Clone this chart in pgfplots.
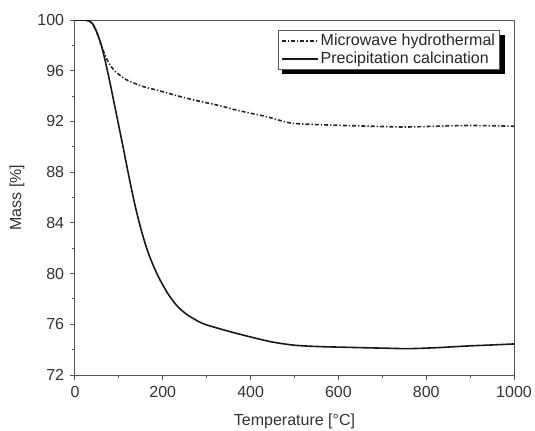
\documentclass[border=0pt]{standalone}
\usepackage{pgfplots}
\pgfplotsset{compat=1.18}
\usepackage{fontspec}
\setmainfont{Liberation Sans}
\usetikzlibrary{backgrounds}
\definecolor{txt}{HTML}{333333}
\definecolor{axc}{HTML}{555555}
\pgfplotstableread{
T m
0 100
20 100
30 99.95
40 99.7
50 99.0
60 98.0
70 97.1
80 96.45
90 96.0
100 95.7
118 95.27
140 94.95
156 94.74
194 94.4
230 94.05
270 93.7
330 93.24
361 92.95
400 92.65
437 92.37
470 92.05
497 91.85
551 91.75
634 91.66
700 91.6
750 91.56
800 91.6
900 91.68
1000 91.62
}\microwave
\pgfplotstableread{
T m
0 100
20 100
30 99.95
40 99.7
50 99.0
60 98.0
70 96.6
80 95.0
90 93.3
100 91.6
110 89.9
120 88.15
130 86.45
140 84.9
150 83.55
160 82.35
170 81.35
180 80.5
190 79.75
200 79.1
210 78.5
220 78.0
230 77.55
240 77.2
250 76.9
260 76.65
280 76.25
300 75.95
350 75.45
400 75.0
450 74.6
500 74.35
550 74.25
600 74.2
700 74.12
760 74.08
820 74.15
900 74.3
950 74.37
1000 74.45
}\precip
\begin{document}
\fontsize{12}{14}\selectfont
\begin{tikzpicture}
\path[use as bounding box] (-56.25pt,-41.25pt) rectangle (345pt,281.25pt);
\begin{axis}[
  at={(0,0)}, anchor=south west,
  scale only axis,
  width=329.25pt, height=266.25pt,
  xmin=0, xmax=1000, ymin=72, ymax=100,
  xtick={0,200,...,1000}, ytick={72,76,...,100},
  minor x tick num=1, minor y tick num=1,
  tick align=outside,
  xtick pos=bottom, ytick pos=left,
  major tick length=4pt, minor tick length=2.5pt,
  axis line style={axc, line width=0.75pt},
  every tick/.style={axc, line width=0.75pt},
  tick label style={font=\fontsize{12}{14}\selectfont, text=txt},
  /pgf/number format/assume math mode=true,
  /pgf/number format/1000 sep={},
  xlabel={Temperature [°C]}, ylabel={Mass [\%]},
  label style={font=\fontsize{12}{14}\selectfont, text=txt},
  xlabel style={at={(axis description cs:0.5,0)}, anchor=center, yshift=-34.5pt},
  ylabel style={at={(axis description cs:0,0.5)}, anchor=center, yshift=43.5pt},
  legend style={name=leg, at={(axis description cs:0.968,0.972)}, anchor=north east,
    draw=axc, fill=white, text=black!85,
    font=\fontsize{12}{14}\selectfont, inner xsep=2pt, inner ysep=1pt, row sep=-1.5pt,
    nodes={inner xsep=1.5pt}},
  legend cell align=left,
  legend image code/.code={\draw[#1, line width=1.5pt] (0pt,0pt) -- (27pt,0pt);},
]
\addplot[black!85, line width=1.2pt, dash pattern=on 3pt off 1.5pt on 1pt off 1.5pt, smooth] table[x=T,y=m] {\microwave};
\addlegendentry{Microwave hydrothermal}
\addplot[black!90, line width=1.2pt, smooth] table[x=T,y=m] {\precip};
\addlegendentry{Precipitation calcination}
\end{axis}
\begin{scope}[on background layer]
\fill[black] ([shift={(3.5pt,-3.5pt)}]leg.south west) rectangle ([shift={(3.5pt,-3.5pt)}]leg.north east);
\end{scope}
\end{tikzpicture}
\end{document}
